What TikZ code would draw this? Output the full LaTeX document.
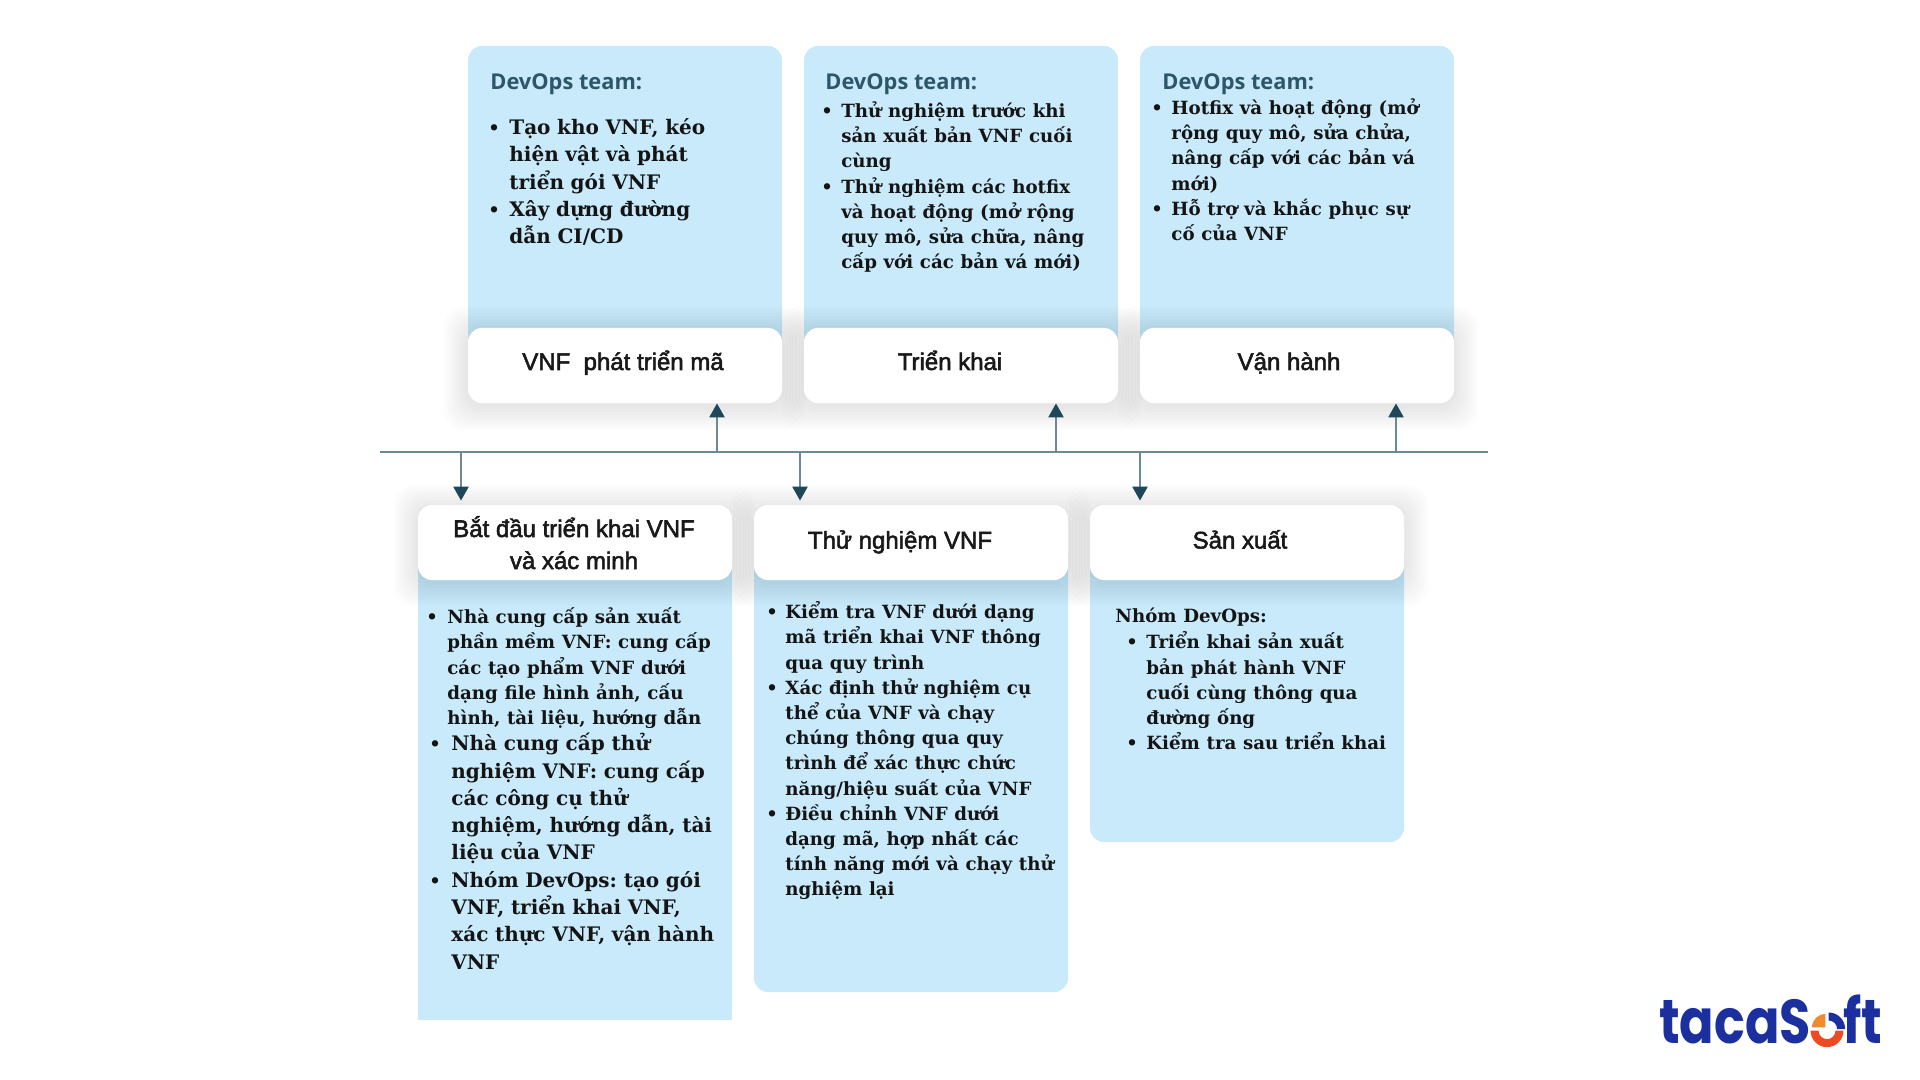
\documentclass[tikz,border=0pt]{standalone}
\usepackage{fontspec}
\setmainfont{DejaVu Serif}
\newfontfamily\titlefont[FakeBold=2.2]{Liberation Sans}
\newfontfamily\devfont{Open Sans}
\newfontfamily\logofont{Poppins}
\usetikzlibrary{arrows.meta,calc,positioning}
\definecolor{panelblue}{HTML}{C9EAFB}
\definecolor{axisgray}{HTML}{6F8896}
\definecolor{tipdark}{HTML}{1E4759}
\definecolor{devteal}{HTML}{2C5669}
\definecolor{logoblue}{HTML}{1B2F9F}
\definecolor{logoorange}{HTML}{F08A2C}
\definecolor{logored}{HTML}{EE4B23}
% a list whose lines are broken by hand
\newenvironment{vnflist}[1]{\begin{list}{\hspace*{-1pt}\fontsize{9}{9}\selectfont\textbullet}{\setlength\leftmargin{#1}\setlength\labelwidth{#1}\setlength\labelsep{0pt}\setlength\itemsep{0pt}\setlength\parsep{0pt}\setlength\topsep{0pt}\setlength\partopsep{0pt}\setlength\itemindent{0pt}\def\makelabel##1{##1\hfil}}}{\end{list}}
\newcommand{\smalltext}{\fontsize{9.1}{12.6}\selectfont\bfseries\frenchspacing}
\newcommand{\bigtext}{\fontsize{10}{13.65}\selectfont\bfseries\frenchspacing}
\tikzset{
  panel/.style={fill=panelblue,rounded corners=7pt},
  titlebox/.style={fill=white,rounded corners=7pt,minimum width=157pt,minimum height=37.5pt,inner sep=0pt},
  titletext/.style={font=\titlefont\fontsize{12}{16}\selectfont,align=center,text=black!90,inner sep=0pt,anchor=base},
  devhead/.style={font=\devfont\fontsize{10.9}{12}\selectfont\bfseries,text=devteal,inner sep=0pt,anchor=west},
  bodytext/.style={anchor=north west,inner sep=0pt,text width=#1,text=black!92},
  axis/.style={draw=axisgray,line width=1.3pt},
  flow/.style={draw=axisgray,line width=1.2pt,-{Triangle[length=7pt,width=7.5pt,color=tipdark]}},
  logotext/.style={font=\logofont\fontsize{31}{33}\selectfont\bfseries,text=logoblue,inner sep=0pt,anchor=base west,xscale=0.82},
}
\newcommand{\softshadow}[4]{
  \foreach \g in {24,21,18,15,12,9,6,3}{
    \fill[black,opacity=0.012,rounded corners=10pt] (#1-\g,#2-\g+3) rectangle (#3+\g,#4+\g+3);
  }
}
\begin{document}
\begin{tikzpicture}[x=0.5pt,y=-0.5pt]
  \useasboundingbox (0,0) rectangle (1920,1080);
  % upper panels
  \fill[panel] (468,46) rectangle (782,390);
  \fill[panel] (804,46) rectangle (1118,390);
  \fill[panel] (1140,46) rectangle (1454,390);
  % lower panels
  \fill[panel,sharp corners] (418,540) rectangle (732,1020);
  \fill[panel] (754,540) rectangle (1068,992);
  \fill[panel] (1090,540) rectangle (1404,842);
  % shadows under the title boxes
  \softshadow{468}{328}{782}{403}
  \softshadow{804}{328}{1118}{403}
  \softshadow{1140}{328}{1454}{403}
  \softshadow{418}{506}{732}{579}
  \softshadow{754}{506}{1068}{579}
  \softshadow{1090}{506}{1404}{579}
  % title boxes
  \node[titlebox] (codebox) at (625,365.5) {};
  \node[titlebox] (deploybox) at (961,365.5) {};
  \node[titlebox] (runbox) at (1297,365.5) {};
  \node[titlebox] (startbox) at (575,542.5) {};
  \node[titlebox] (testbox) at (911,542.5) {};
  \node[titlebox] (prodbox) at (1247,542.5) {};
  \node[titletext] (codetitle) at (623,370) {VNF\ \ phát triển mã};
  \node[titletext] (deploytitle) at (950,370) {Triển khai};
  \node[titletext] (runtitle) at (1289,370) {Vận hành};
  \node[titletext] (starttitle) at (574,569) {Bắt đầu triển khai VNF\\và xác minh};
  \node[titletext] (testtitle) at (900,548.5) {Thử nghiệm VNF};
  \node[titletext] (prodtitle) at (1240,548.5) {Sản xuất};
  % time line
  \coordinate (axisleft) at (380,452);
  \coordinate (axisright) at (1488,452);
  \draw[axis] (axisleft) -- (axisright);
  \foreach \name/\x/\target in {upa/717/codebox,upb/1056/deploybox,upc/1396/runbox}{
    \coordinate (\name) at (\x,452);
    \draw[flow] (\name) -- (\name |- \target.south);
  }
  \foreach \name/\x/\target in {downa/461/startbox,downb/800/testbox,downc/1140/prodbox}{
    \coordinate (\name) at (\x,452);
    \draw[flow,shorten >=2pt] (\name) -- (\name |- \target.north);
  }
  % upper texts
  \node[devhead] (heada) at (490,84) {DevOps team:};
  \node[devhead] (headb) at (825,84) {DevOps team:};
  \node[devhead] (headc) at (1162,84) {DevOps team:};
  \node[bodytext=135pt] (bodya) at (490,107) {\bigtext\begin{vnflist}{9.5pt}
    \item Tạo kho VNF, kéo\\hiện vật và phát\\triển gói VNF
    \item Xây dựng đường\\dẫn CI/CD
  \end{vnflist}};
  \node[bodytext=140pt] (bodyb) at (823,92) {\smalltext\begin{vnflist}{9pt}
    \item Thử nghiệm trước khi\\sản xuất bản VNF cuối\\cùng
    \item Thử nghiệm các hotfix\\và hoạt động (mở rộng\\quy mô, sửa chữa, nâng\\cấp với các bản vá mới)
  \end{vnflist}};
  \node[bodytext=140pt] (bodyc) at (1153,89) {\smalltext\begin{vnflist}{9pt}
    \item Hotfix và hoạt động (mở\\rộng quy mô, sửa chửa,\\nâng cấp với các bản vá\\mới)
    \item Hỗ trợ và khắc phục sự\\cố của VNF
  \end{vnflist}};
  % lower texts
  \node[bodytext=150pt] (bodyd) at (428,598) {\smalltext\begin{vnflist}{9.5pt}
    \item Nhà cung cấp sản xuất\\phần mềm VNF: cung cấp\\các tạo phẩm VNF dưới\\dạng file hình ảnh, cấu\\hình, tài liệu, hướng dẫn
  \end{vnflist}};
  \node[bodytext=150pt] (bodye) at (431,723) {\bigtext\begin{vnflist}{10pt}
    \item Nhà cung cấp thử\\nghiệm VNF: cung cấp\\các công cụ thử\\nghiệm, hướng dẫn, tài\\liệu của VNF
    \item Nhóm DevOps: tạo gói\\VNF, triển khai VNF,\\xác thực VNF, vận hành\\VNF
  \end{vnflist}};
  \node[bodytext=155pt] (bodyf) at (768,593) {\smalltext\begin{vnflist}{8.5pt}
    \item Kiểm tra VNF dưới dạng\\mã triển khai VNF thông\\qua quy trình
    \item Xác định thử nghiệm cụ\\thể của VNF và chạy\\chúng thông qua quy\\trình để xác thực chức\\năng/hiệu suất của VNF
    \item Điều chỉnh VNF dưới\\dạng mã, hợp nhất các\\tính năng mới và chạy thử\\nghiệm lại
  \end{vnflist}};
  \node[bodytext=145pt] (bodyg) at (1115,608) {\smalltext Nhóm DevOps:\\[1pt]
    \hspace*{6.5pt}\begin{minipage}[t]{136pt}\begin{vnflist}{9pt}
    \item Triển khai sản xuất\\bản phát hành VNF\\cuối cùng thông qua\\đường ống
    \item Kiểm tra sau triển khai
  \end{vnflist}\end{minipage}};
  % logo
  \node[logotext] (logoa) at (1659,1043) {tacaS};
  \node[logotext] (logob) at (1843,1043) {ft};
  \coordinate (logoc) at (1827,1029);
  \fill[logored] ([shift={(-8.25pt,-0.8pt)}]logoc) arc[start angle=180,end angle=360,radius=8.25pt] -- ++(-4pt,0) arc[start angle=360,end angle=180,radius=4.25pt] -- cycle;
  \fill[logoblue] ([shift={(0.8pt,8.25pt)}]logoc) arc[start angle=90,end angle=0,radius=8.25pt] -- ++(-4pt,0) arc[start angle=0,end angle=90,radius=4.25pt] -- cycle;
  \fill[logoorange] ([shift={(-0.8pt,0.8pt)}]logoc) -- ++(-6.7pt,0) arc[start angle=180,end angle=90,radius=6.7pt] -- cycle;
\end{tikzpicture}
\end{document}
